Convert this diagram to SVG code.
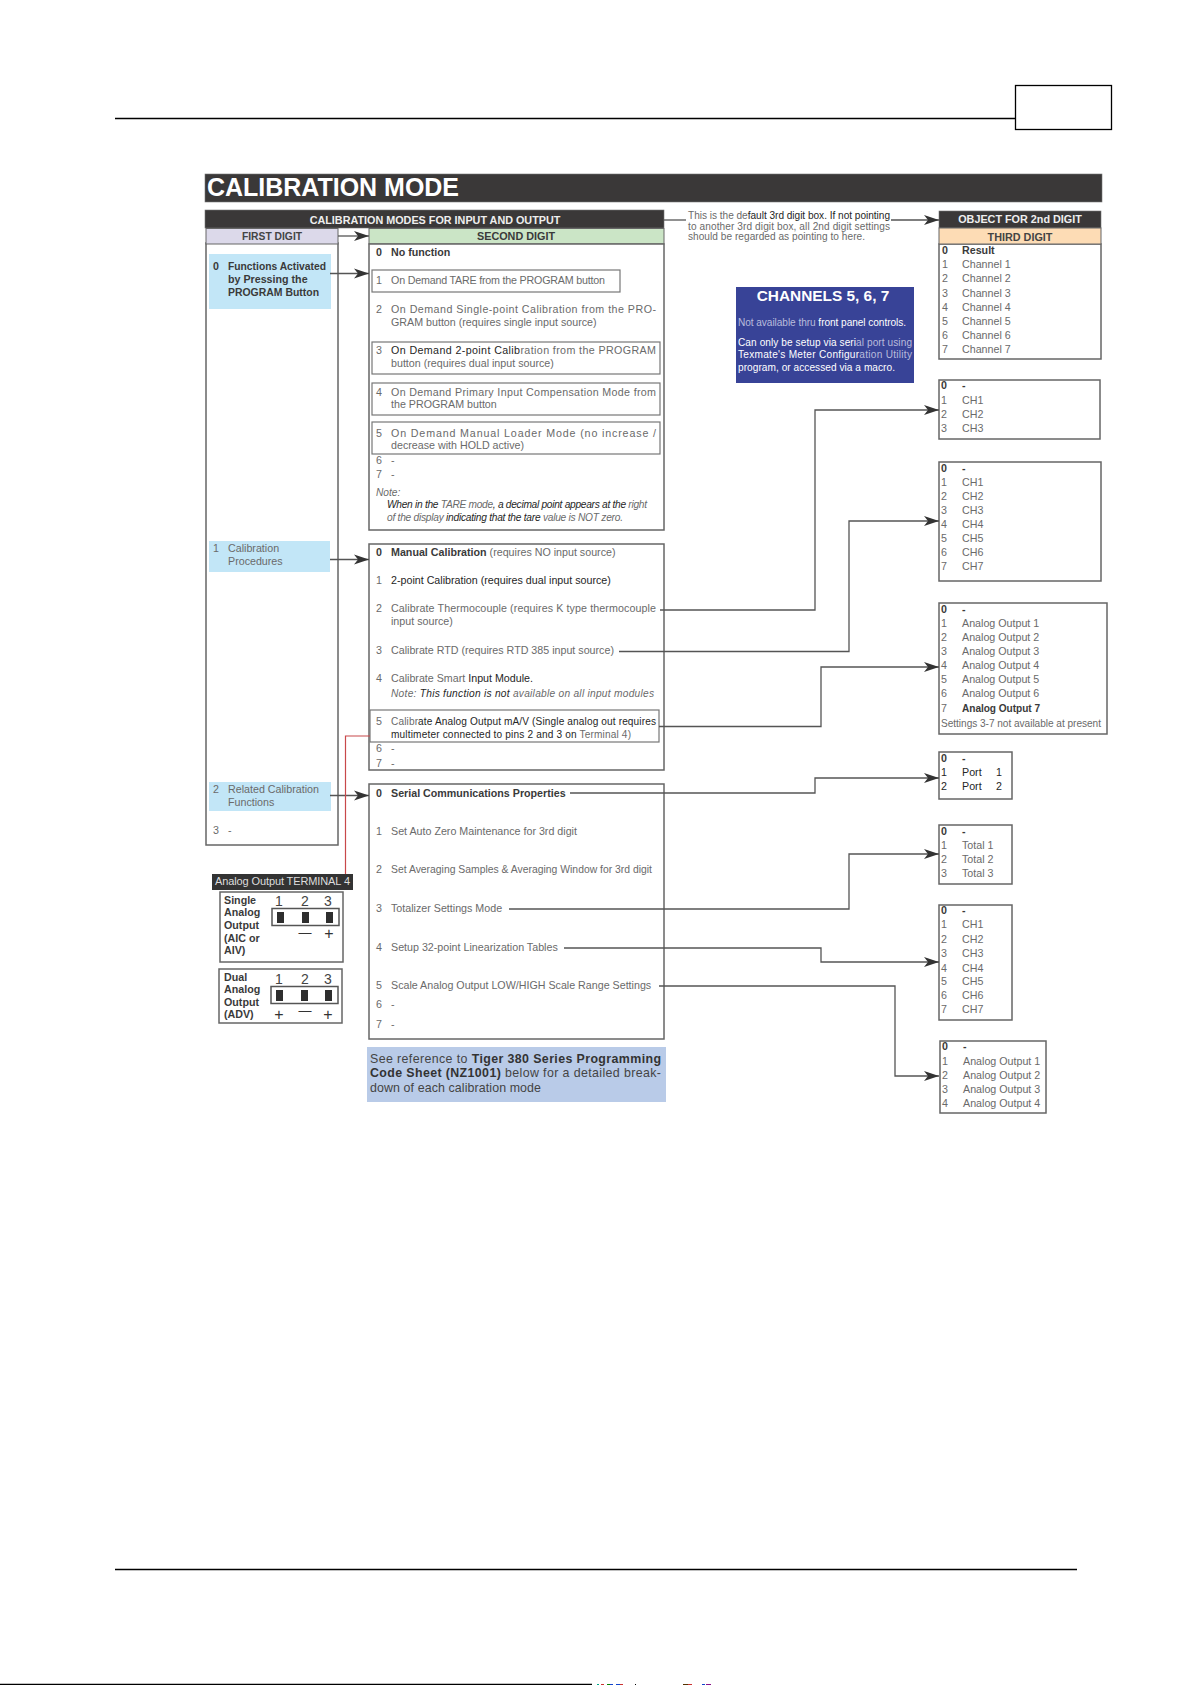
<svg xmlns="http://www.w3.org/2000/svg" width="1191" height="1685" viewBox="0 0 1191 1685">
<style>
text{font-family:"Liberation Sans",Arial,sans-serif;font-size:10.700px;fill:#6a6a6a}
.b{font-weight:bold;fill:#3a3a3a}
.d{fill:#262626}
.i{font-style:italic;font-size:10.200px}
.t{font-size:10.100px}
.h{font-weight:bold;font-size:10.800px;text-anchor:middle}
.box{fill:#fff;stroke:#666;stroke-width:1.5}
.sub{fill:none;stroke:#777;stroke-width:1.2}
.bar{fill:#3a3838;stroke:#777;stroke-width:.6}
.cy{fill:#c2e6f7}
.c{fill:none;stroke:#555;stroke-width:1.3}
.a{marker-end:url(#arr)}
.page{stroke:#000;stroke-width:1.3;fill:none}
.blk{fill:#2e2e2e}
.n{font-size:14px;text-anchor:middle;fill:#444}
.s{font-size:16px;text-anchor:middle;fill:#333}
.m{font-size:13px;text-anchor:middle;fill:#333}
.l{fill:#333;font-weight:bold}
.r{font-size:12.400px;fill:#444}
</style>
<defs>
<marker id="arr" markerUnits="userSpaceOnUse" markerWidth="16" markerHeight="12" refX="15" refY="6" orient="auto" overflow="visible">
<path d="M0,1 L15,6 L0,11 L4,6 Z" fill="#333"/>
</marker>
</defs>
<rect width="1191" height="1685" fill="#fff"/>

<g id="page-frame">
<path class="page" d="M115,118.500H1015M115,1569.500H1077"/>
<rect class="page" x="1015.500" y="85.500" width="96" height="44"/>
<path d="M0,1684.500H592" stroke="#000" stroke-width="1.500"/>
<path d="M597,1684.500h2" stroke="#0a8" /><path d="M601,1684.500h3" stroke="#c33"/><path d="M607,1684.500h3" stroke="#080"/><path d="M610,1684.500h3" stroke="#14c"/><path d="M616,1684.500h4" stroke="#14c"/><path d="M620,1684.500h3" stroke="#c33"/><path d="M635,1684.500h1" stroke="#000"/><path d="M683,1684.500h5" stroke="#530"/><path d="M688,1684.500h4" stroke="#c33"/><path d="M702,1684.500h3" stroke="#14c"/><path d="M706,1684.500h5" stroke="#818"/>
</g>

<g id="title">
<rect class="bar" x="205" y="174" width="897" height="28"/>
<text x="207" y="195.500" style="font-size:25.500px;font-weight:bold;fill:#fff" textLength="252" lengthAdjust="spacingAndGlyphs">CALIBRATION MODE</text>
</g>

<g id="modes-header">
<rect class="bar" x="205" y="210" width="459" height="18"/>
<text class="h" x="435" y="224" style="fill:#eee">CALIBRATION MODES FOR INPUT AND OUTPUT</text>
</g>

<g id="first-digit">
<rect class="box" x="206" y="243" width="132" height="602"/>
<rect x="206" y="228.500" width="132" height="15.500" fill="#dcd9ea" stroke="#666" stroke-width="1"/>
<text class="h" x="272" y="240" style="fill:#444;font-size:10.300px">FIRST DIGIT</text>
</g>
<g id="first-0">
<rect class="cy" x="209" y="254" width="122" height="55"/>
<text class="b" x="213" y="270">0</text>
<text class="b" x="228" y="270" textLength="98" lengthAdjust="spacingAndGlyphs">Functions Activated</text>
<text class="b" x="228" y="283">by Pressing the</text>
<text class="b" x="228" y="296" textLength="91" lengthAdjust="spacingAndGlyphs">PROGRAM Button</text>
</g>
<g id="first-1">
<rect class="cy" x="209" y="541" width="121" height="31"/>
<text x="213" y="552">1</text><text x="228" y="552">Calibration</text><text x="228" y="565">Procedures</text>
</g>
<g id="first-2">
<rect class="cy" x="209" y="782" width="122" height="29"/>
<text x="213" y="793">2</text><text x="228" y="793">Related Calibration</text><text x="228" y="806">Functions</text>
</g>
<g id="first-3"><text x="213" y="834">3</text><text x="228" y="834">-</text></g>

<g id="second-digit">
<rect x="369" y="228.500" width="295" height="15.500" fill="#cbe5c6" stroke="#666" stroke-width="1"/>
<text class="h" x="516" y="240" style="fill:#3a3a3a">SECOND DIGIT</text>
</g>

<g id="second-a">
<rect class="box" x="369" y="244" width="295" height="286"/>
<text class="b" x="376" y="256">0</text><text class="b" x="391" y="256">No function</text>
<rect class="sub" x="372" y="270" width="248" height="22"/>
<text x="376" y="284">1</text><text x="391" y="284" textLength="214">On Demand TARE from the PROGRAM button</text>
<text x="376" y="313">2</text><text x="391" y="313" textLength="265">On Demand Single-point Calibration from the PRO-</text>
<text x="391" y="326">GRAM button (requires single input source)</text>
<rect class="sub" x="372" y="342" width="288" height="32"/>
<text x="376" y="354">3</text><text x="391" y="354" textLength="265"><tspan class="d">On Demand 2-point Calib</tspan>ration from the PROGRAM</text>
<text x="391" y="367">button (requires dual input source)</text>
<rect class="sub" x="372" y="383" width="288" height="32"/>
<text x="376" y="396">4</text><text x="391" y="396" textLength="265">On Demand Primary Input Compensation Mode from</text>
<text x="391" y="408">the PROGRAM button</text>
<rect class="sub" x="372" y="422" width="288" height="32"/>
<text x="376" y="437">5</text><text x="391" y="437" textLength="265">On Demand Manual Loader Mode (no increase /</text>
<text x="391" y="449">decrease with HOLD active)</text>
<text x="376" y="464">6</text><text x="391" y="464">-</text>
<text x="376" y="478">7</text><text x="391" y="478">-</text>
<text class="i" x="376" y="496">Note:</text>
<text class="i" x="387" y="508" textLength="260"><tspan class="d">When in the </tspan>TARE mode<tspan class="d">, a decimal point appears at the </tspan>right</text>
<text class="i" x="387" y="521" textLength="236">of the display <tspan class="d">indicating that the tare </tspan>value is NOT zero.</text>
</g>

<g id="second-b">
<rect class="box" x="369" y="544" width="295" height="226"/>
<text class="b" x="376" y="556">0</text><text x="391" y="556"><tspan class="b">Manual Calibration</tspan> (requires NO input source)</text>
<text x="376" y="584">1</text><text class="d" x="391" y="584">2-point Calibration (requires dual input source)</text>
<text x="376" y="612">2</text><text x="391" y="612" textLength="265">Calibrate Thermocouple (requires K type thermocouple</text>
<text x="391" y="625">input source)</text>
<text x="376" y="654">3</text><text x="391" y="654">Calibrate RTD (requires RTD 385 input source)</text>
<text x="376" y="682">4</text><text x="391" y="682">Calibrate Smart <tspan class="d">Input Module.</tspan></text>
<text class="i" x="391" y="697" textLength="263">Note: <tspan class="d">This function is not </tspan>available on all input modules</text>
<rect class="sub" x="370" y="710" width="289" height="32"/>
<text x="376" y="725">5</text><text class="t" x="391" y="725" textLength="265">Calibr<tspan class="d">ate Analog Output mA/V (Single analog out requires</tspan></text>
<text class="t" x="391" y="738" textLength="240"><tspan class="d">multimeter connected to pins 2 and 3 on </tspan>Terminal 4)</text>
<text x="376" y="752">6</text><text x="391" y="752">-</text>
<text x="376" y="767">7</text><text x="391" y="767">-</text>
</g>

<g id="second-c">
<rect class="box" x="369" y="784" width="295" height="255"/>
<text class="b" x="376" y="797">0</text><text class="b" x="391" y="797">Serial Communications Properties</text>
<text x="376" y="835">1</text><text x="391" y="835">Set Auto Zero Maintenance for 3rd digit</text>
<text x="376" y="873">2</text><text x="391" y="873" textLength="261" lengthAdjust="spacingAndGlyphs">Set Averaging Samples &amp; Averaging Window for 3rd digit</text>
<text x="376" y="912">3</text><text x="391" y="912">Totalizer Settings Mode</text>
<text x="376" y="951">4</text><text x="391" y="951">Setup 32-point Linearization Tables</text>
<text x="376" y="989">5</text><text x="391" y="989">Scale Analog Output LOW/HIGH Scale Range Settings</text>
<text x="376" y="1008">6</text><text x="391" y="1008">-</text>
<text x="376" y="1028">7</text><text x="391" y="1028">-</text>
</g>

<g id="reference-note">
<rect x="367" y="1047" width="299" height="55" fill="#b9cbe8"/>
<text class="r" x="370" y="1063" textLength="291">See reference to <tspan class="l">Tiger 380 Series Programming</tspan></text>
<text class="r" x="370" y="1077" textLength="291"><tspan class="l">Code Sheet (NZ1001)</tspan> below for a detailed break-</text>
<text class="r" x="370" y="1092" textLength="171">down of each calibration mode</text>
</g>

<g id="terminal-label">
<rect x="212" y="874" width="141" height="16" fill="#333"/>
<text x="215" y="885" style="font-size:11px;fill:#ddd" textLength="135">Analog Output TERMINAL 4</text>
</g>
<g id="terminal-single">
<rect class="box" x="220" y="892" width="123" height="70"/>
<text class="b" x="224" y="904">Single</text><text class="b" x="224" y="916">Analog</text><text class="b" x="224" y="929">Output</text><text class="b" x="224" y="942">(AIC or</text><text class="b" x="224" y="954">AIV)</text>
<text class="n" x="279" y="906">1</text><text class="n" x="305" y="906">2</text><text class="n" x="328" y="906">3</text>
<rect x="272" y="908.500" width="67" height="17" fill="none" stroke="#555" stroke-width="1.500"/>
<rect class="blk" x="277" y="912" width="7" height="11"/><rect class="blk" x="302" y="912" width="7" height="11"/><rect class="blk" x="326" y="912" width="7" height="11"/>
<text class="m" x="305" y="937">—</text><text class="s" x="329" y="939">+</text>
</g>
<g id="terminal-dual">
<rect class="box" x="219" y="969" width="123" height="54"/>
<text class="b" x="224" y="981">Dual</text><text class="b" x="224" y="993">Analog</text><text class="b" x="224" y="1006">Output</text><text class="b" x="224" y="1018">(ADV)</text>
<text class="n" x="279" y="984">1</text><text class="n" x="305" y="984">2</text><text class="n" x="328" y="984">3</text>
<rect x="271" y="986.500" width="67" height="17" fill="none" stroke="#555" stroke-width="1.500"/>
<rect class="blk" x="276" y="990" width="7" height="11"/><rect class="blk" x="301" y="990" width="7" height="11"/><rect class="blk" x="325" y="990" width="7" height="11"/>
<text class="s" x="279" y="1020">+</text><text class="m" x="305" y="1015">—</text><text class="s" x="328" y="1020">+</text>
</g>

<g id="default-note">
<text class="t" x="688" y="219" textLength="202">This is the de<tspan class="d">fault 3rd digit box. If not pointing</tspan></text>
<text class="t" x="688" y="230" textLength="202">to another 3rd digit box, all 2nd digit settings</text>
<text class="t" x="688" y="240" textLength="177">should be regarded as pointing to here.</text>
</g>

<g id="channels-note">
<rect x="736" y="287" width="178" height="96" fill="#384397"/>
<text x="823" y="301" style="font-size:15.400px;font-weight:bold;fill:#fff;text-anchor:middle">CHANNELS 5, 6, 7</text>
<text class="t" x="738" y="326" textLength="168" style="fill:#b8bcdc">Not available thru <tspan style="fill:#fff">front panel controls.</tspan></text>
<text class="t" x="738" y="346" textLength="174" style="fill:#fff">Can only be setup via seri<tspan style="fill:#b8bcdc">al port using</tspan></text>
<text class="t" x="738" y="358" textLength="174" style="fill:#fff">Texmate's Meter Configur<tspan style="fill:#b8bcdc">ation Utility</tspan></text>
<text class="t" x="738" y="371" textLength="157" style="fill:#fff">program, or accessed via a macro.</text>
</g>

<g id="third-default">
<rect class="box" x="939" y="244" width="162" height="115"/>
<rect class="bar" x="939" y="211" width="162" height="17"/>
<text class="h" x="1020" y="223" style="fill:#eee">OBJECT FOR 2nd DIGIT</text>
<rect x="939" y="228" width="162" height="16" fill="#fddcb5" stroke="#666" stroke-width="1"/>
<text class="h" x="1020" y="240.500" style="fill:#444">THIRD DIGIT</text>
<text class="b" x="942" y="254">0</text><text class="b" x="962" y="254">Result</text>
<text x="942" y="268">1</text><text x="962" y="268">Channel 1</text>
<text x="942" y="282">2</text><text x="962" y="282">Channel 2</text>
<text x="942" y="297">3</text><text x="962" y="297">Channel 3</text>
<text x="942" y="311">4</text><text x="962" y="311">Channel 4</text>
<text x="942" y="325">5</text><text x="962" y="325">Channel 5</text>
<text x="942" y="339">6</text><text x="962" y="339">Channel 6</text>
<text x="942" y="353">7</text><text x="962" y="353">Channel 7</text>
</g>

<g id="third-ch3">
<rect class="box" x="939" y="380" width="161" height="59"/>
<text class="b" x="941" y="389">0</text><text class="b" x="962" y="389">-</text>
<text x="941" y="404">1</text><text x="962" y="404">CH1</text>
<text x="941" y="418">2</text><text x="962" y="418">CH2</text>
<text x="941" y="432">3</text><text x="962" y="432">CH3</text>
</g>

<g id="third-ch7">
<rect class="box" x="939" y="462" width="162" height="119"/>
<text class="b" x="941" y="472">0</text><text class="b" x="962" y="472">-</text>
<text x="941" y="486">1</text><text x="962" y="486">CH1</text>
<text x="941" y="500">2</text><text x="962" y="500">CH2</text>
<text x="941" y="514">3</text><text x="962" y="514">CH3</text>
<text x="941" y="528">4</text><text x="962" y="528">CH4</text>
<text x="941" y="542">5</text><text x="962" y="542">CH5</text>
<text x="941" y="556">6</text><text x="962" y="556">CH6</text>
<text x="941" y="570">7</text><text x="962" y="570">CH7</text>
</g>

<g id="third-ao7">
<rect class="box" x="939" y="603" width="168" height="131"/>
<text class="b" x="941" y="613">0</text><text class="b" x="962" y="613">-</text>
<text x="941" y="627">1</text><text x="962" y="627">Analog Output 1</text>
<text x="941" y="641">2</text><text x="962" y="641">Analog Output 2</text>
<text x="941" y="655">3</text><text x="962" y="655">Analog Output 3</text>
<text x="941" y="669">4</text><text x="962" y="669">Analog Output 4</text>
<text x="941" y="683">5</text><text x="962" y="683">Analog Output 5</text>
<text x="941" y="697">6</text><text x="962" y="697">Analog Output 6</text>
<text x="941" y="712">7</text><text class="b t" x="962" y="712" textLength="78">Analog Output 7</text>
<text class="t" x="941" y="727" textLength="160">Settings 3-7 not available at present</text>
</g>

<g id="third-port">
<rect class="box" x="939" y="752" width="73" height="47"/>
<text class="b" x="941" y="762">0</text><text class="b" x="962" y="762">-</text>
<text class="d" x="941" y="776">1</text><text class="d" x="962" y="776">Port</text><text class="d" x="996" y="776">1</text>
<text class="d" x="941" y="790">2</text><text class="d" x="962" y="790">Port</text><text class="d" x="996" y="790">2</text>
</g>

<g id="third-total">
<rect class="box" x="939" y="825" width="73" height="59"/>
<text class="b" x="941" y="835">0</text><text class="b" x="962" y="835">-</text>
<text x="941" y="849">1</text><text x="962" y="849">Total 1</text>
<text x="941" y="863">2</text><text x="962" y="863">Total 2</text>
<text x="941" y="877">3</text><text x="962" y="877">Total 3</text>
</g>

<g id="third-ch7b">
<rect class="box" x="939" y="905" width="73" height="115"/>
<text class="b" x="941" y="914">0</text><text class="b" x="962" y="914">-</text>
<text x="941" y="928">1</text><text x="962" y="928">CH1</text>
<text x="941" y="943">2</text><text x="962" y="943">CH2</text>
<text x="941" y="957">3</text><text x="962" y="957">CH3</text>
<text x="941" y="972">4</text><text x="962" y="972">CH4</text>
<text x="941" y="985">5</text><text x="962" y="985">CH5</text>
<text x="941" y="999">6</text><text x="962" y="999">CH6</text>
<text x="941" y="1013">7</text><text x="962" y="1013">CH7</text>
</g>

<g id="third-ao4">
<rect class="box" x="940" y="1041" width="106" height="72"/>
<text class="b" x="942" y="1050">0</text><text class="b" x="963" y="1050">-</text>
<text x="942" y="1065">1</text><text x="963" y="1065">Analog Output 1</text>
<text x="942" y="1079">2</text><text x="963" y="1079">Analog Output 2</text>
<text x="942" y="1093">3</text><text x="963" y="1093">Analog Output 3</text>
<text x="942" y="1107">4</text><text x="963" y="1107">Analog Output 4</text>
</g>

<g id="connectors">
<path class="c a" d="M338,236H369"/>
<path class="c a" d="M330,273.500H369"/>
<path class="c a" d="M330,559.500H369"/>
<path class="c a" d="M330,795.500H369"/>
<path class="c" d="M664,220H686"/>
<path class="c a" d="M891,220H939"/>
<path class="c a" d="M660,610H815V410H939"/>
<path class="c a" d="M619,651.500H849V521H939"/>
<path class="c a" d="M659,726.500H821V667H939"/>
<path class="c a" d="M570,793H815V778H939"/>
<path class="c a" d="M509,909H849V854H939"/>
<path class="c a" d="M564,948H821V962H939"/>
<path class="c a" d="M659,986H895V1076H939"/>
<path d="M370,736H345.500V874" fill="none" stroke="#c8484a" stroke-width="1.200"/>
</g>
</svg>
